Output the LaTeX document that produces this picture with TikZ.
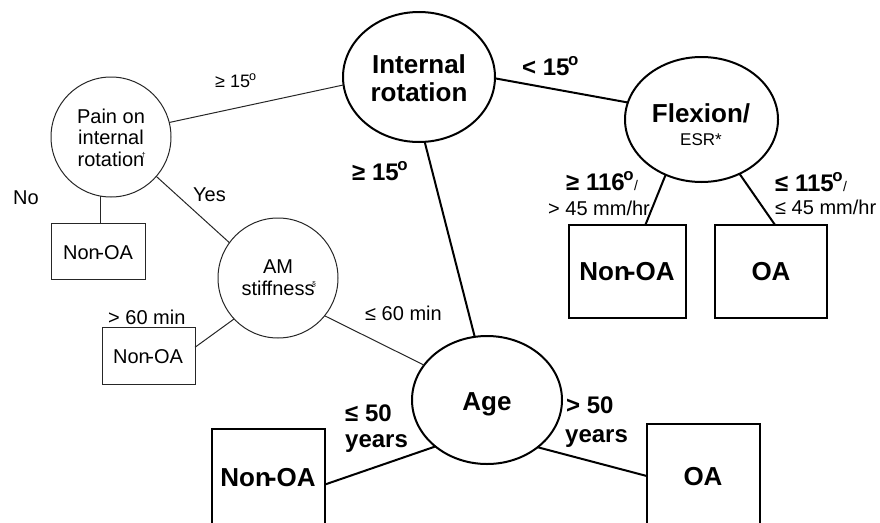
\documentclass[tikz,border=0pt]{standalone}
\usepackage{fontspec}
\setmainfont{Liberation Sans}
\usetikzlibrary{shapes.geometric}
\newcommand{\dg}{\kern-0.06em\textsuperscript{o}}
\newcommand{\fnmk}[1]{\kern-2.5pt\raisebox{9pt}{\fontsize{7}{7}\selectfont #1}}
\newcommand{\nonoa}{Non\kern-0.12em-OA}
\begin{document}
\begin{tikzpicture}[x=1pt,y=-1pt,
  thickline/.style={line width=2pt},
  thinline/.style={line width=1pt, black!85},
  bigell/.style={ellipse, draw, line width=2pt, inner sep=0pt, outer sep=0pt},
  smcirc/.style={circle, draw, black!85, line width=1pt, inner sep=0pt, outer sep=0pt, minimum size=120pt},
  bigbox/.style={rectangle, draw, line width=2pt, inner sep=0pt, outer sep=0pt},
  smbox/.style={rectangle, draw, black!85, line width=1pt, inner sep=0pt, outer sep=0pt},
  bigtxt/.style={inner sep=0pt, anchor=base, font=\fontsize{26}{28}\selectfont\bfseries},
  smtxt/.style={inner sep=0pt, anchor=base, font=\fontsize{20}{22}\selectfont},
  lbl/.style={inner sep=0pt, anchor=base west, font=\fontsize{24}{26}\selectfont\bfseries},
  slbl/.style={inner sep=0pt, anchor=base west, font=\fontsize{20}{22}\selectfont}
]
\useasboundingbox (0,0) rectangle (880,522);
\clip (0,0) rectangle (880,522);

% decision nodes
\node[bigell, minimum width=152pt, minimum height=130pt] (ir) at (419,77) {};
\node[bigell, minimum width=153pt, minimum height=125pt] (flex) at (701.5,119.5) {};
\node[bigell, minimum width=150pt, minimum height=128pt] (age) at (487,400) {};
\node[smcirc] (pain) at (111,137) {};
\node[smcirc] (am) at (278,278) {};

% leaf boxes
\node[smbox, minimum width=94pt, minimum height=56pt] (nb1) at (98,251) {};
\node[smbox, minimum width=93pt, minimum height=57pt] (nb2) at (148.5,355.5) {};
\node[bigbox, minimum width=117pt, minimum height=93pt] (fb1) at (627.5,271.5) {};
\node[bigbox, minimum width=112pt, minimum height=93pt] (fb2) at (771,271.5) {};
\node[bigbox, minimum width=113pt, minimum height=111pt] (bb1) at (268.5,484.5) {};
\node[bigbox, minimum width=113pt, minimum height=116pt] (bb2) at (703.5,482) {};

% node texts
\node[bigtxt] (irt1) at (419,73) {Internal};
\node[bigtxt] (irt2) at (419,101) {rotation};
\node[bigtxt] (flt1) at (701,122) {Flexion/};
\node[smtxt, font=\fontsize{17}{19}\selectfont] (flt2) at (701,145) {ESR*};
\node[bigtxt] (aget) at (487,410) {Age};
\node[smtxt] (pt1) at (111,123) {Pain on};
\node[smtxt] (pt2) at (111,144) {internal};
\node[smtxt] (pt3) at (111,166) {rotation\rlap{\fnmk{†}}};
\node[smtxt] (amt1) at (278,273) {AM};
\node[smtxt] (amt2) at (278,295) {stiffness\rlap{\fnmk{§}}};
\node[bigtxt] (fb1t) at (627,280) {\nonoa};
\node[bigtxt] (fb2t) at (771,280) {OA};
\node[bigtxt] (bb1t) at (268,486) {\nonoa};
\node[bigtxt] (bb2t) at (703,485) {OA};
\node[smtxt] (nb1t) at (98,259) {\nonoa};
\node[smtxt] (nb2t) at (148,363) {\nonoa};

% connectors
\draw[thinline] (ir.186) -- (pain.14);
\draw[thickline] (ir.-1) -- (flex.167.4);
\draw[thickline] (ir.-85.7) -- (age.101.7);
\draw[thickline] (flex.-123) -- (fb1.69.4);
\draw[thickline] (flex.-55) -- (fb2.85);
\draw[thinline] (pain.-100.6) -- (pain.-100.6 |- nb1.north);
\draw[thinline] (pain.-41) -- (am.144);
\draw[thinline] (am.-137) -- (nb2.10.4);
\draw[thinline] (am.-39) -- (age.151);
\draw[thickline] (age.-138.4) -- (bb1.east);
\draw[thickline] (age.-43.8) -- (bb2.174);

% branch labels
\node[slbl, font=\fontsize{18}{20}\selectfont] (l1) at (215,87) {≥ 15\dg};
\node[slbl] (l2) at (13,204) {No};
\node[slbl] (l3) at (193,201) {Yes};
\node[slbl] (l4) at (108,324) {> 60 min};
\node[slbl] (l5) at (365,320) {≤ 60 min};
\node[lbl] (l6) at (352,180) {≥ 15\dg};
\node[lbl] (l7) at (522,75) {< 15\dg};
\node[lbl] (l8) at (566,190) {≥ 116\dg{\fontsize{14}{14}\selectfont\mdseries /}};
\node[slbl] (l9) at (548,215) {> 45 mm/hr};
\node[lbl] (l10) at (775,191) {≤ 115\dg{\fontsize{14}{14}\selectfont\mdseries /}};
\node[slbl] (l11) at (775,214) {≤ 45 mm/hr};
\node[lbl] (l12) at (345,421) {≤ 50};
\node[lbl] (l13) at (345,447) {years};
\node[lbl] (l14) at (566,413) {> 50};
\node[lbl] (l15) at (565,442) {years};
\end{tikzpicture}
\end{document}
